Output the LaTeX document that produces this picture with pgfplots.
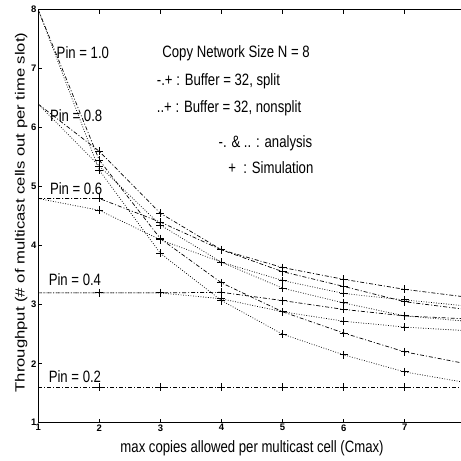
\documentclass[border=0pt]{standalone}
\usepackage{fontspec}
\setmainfont{Liberation Sans}
\usepackage{graphicx}
\usepackage{pgfplots}
\usepackage{pgfplotstable}
\pgfplotsset{compat=1.18}
\newcommand{\sq}[1]{\scalebox{0.8}[1]{\fontsize{16.5}{16.5}\selectfont #1}}
\pgfplotstableread{
x  A     B     C     D     E     F     G     H     I
1  8.00  8.00  6.40  6.40  4.80  4.80  3.20  3.20  1.60
2  5.45  5.28  5.60  5.35  4.80  4.60  3.20  3.20  1.60
3  4.12  3.87  4.55  4.35  4.40  4.10  3.20  3.20  1.60
4  3.37  3.07  3.93  3.72  3.93  3.72  3.21  3.10  1.60
5  2.88  2.50  3.63  3.41  3.56  3.28  3.07  2.88  1.60
6  2.52  2.15  3.43  3.19  3.31  3.03  2.92  2.72  1.60
7  2.20  1.86  3.26  3.08  3.05  2.81  2.81  2.62  1.60
8  2.00  1.68  3.13  2.98  2.92  2.72  2.76  2.56  1.60
}\data
\begin{document}
\begin{tikzpicture}
\begin{axis}[
  scale only axis, width=427.7bp, height=413bp,
  xmin=1, xmax=8, ymin=1, ymax=8,
  xtick={1,...,7}, ytick={1,...,8},
  tick align=inside, major tick length=4bp,
  axis line style={line width=1bp},
  every tick/.style={black, line width=0.7bp},
  ticklabel style={font=\fontsize{9.5}{9.5}\selectfont\bfseries, inner sep=1.5bp},
  /pgf/number format/assume math mode=true,
  xlabel={\scalebox{0.8}[1]{\fontsize{16.5}{16.5}\selectfont max copies allowed per multicast cell (Cmax)}},
  ylabel={\scalebox{1}[0.8]{\fontsize{16.7}{16.7}\selectfont Throughput (\# of multicast cells out per time slot)}},
  xlabel style={at={(axis description cs:0.5,-0.0617)}, anchor=center, inner sep=0},
  ylabel style={at={(axis description cs:-0.04,0.509)}, anchor=center, inner sep=0},
  dd/.style={black, line width=0.7bp, dash pattern=on 4bp off 2bp on 1bp off 2bp, mark=none},
  dt/.style={black, line width=0.7bp, dash pattern=on 0.8bp off 1.7bp, mark=none},
  mk/.style={black, only marks, mark=+, mark size=4bp, mark options={solid, line width=1bp}, restrict x to domain=2:7},
]
\addplot[dd] table[x=x,y=A]{\data};
\addplot[dt] table[x=x,y=B]{\data};
\addplot[dd] table[x=x,y=C]{\data};
\addplot[dt] table[x=x,y=D]{\data};
\addplot[dd] table[x=x,y=E]{\data};
\addplot[dt] table[x=x,y=F]{\data};
\addplot[dd] table[x=x,y=G]{\data};
\addplot[dt] table[x=x,y=H]{\data};
\addplot[dd] table[x=x,y=I]{\data};
\addplot[mk] table[x=x,y=A]{\data};
\addplot[mk] table[x=x,y=B]{\data};
\addplot[mk] table[x=x,y=C]{\data};
\addplot[mk] table[x=x,y=D]{\data};
\addplot[mk] table[x=x,y=E]{\data};
\addplot[mk] table[x=x,y=F]{\data};
\addplot[mk] table[x=x,y=G]{\data};
\addplot[mk] table[x=x,y=H]{\data};
\addplot[mk] table[x=x,y=I]{\data};
\node[anchor=west, inner sep=0] at (axis cs:1.30,7.27) {\sq{Pin = 1.0}};
\node[anchor=west, inner sep=0] at (axis cs:1.19,6.21) {\sq{Pin = 0.8}};
\node[anchor=west, inner sep=0] at (axis cs:1.19,4.97) {\sq{Pin = 0.6}};
\node[anchor=west, inner sep=0] at (axis cs:1.17,3.43) {\sq{Pin = 0.4}};
\node[anchor=west, inner sep=0] at (axis cs:1.17,1.78) {\sq{Pin = 0.2}};
\node[anchor=west, inner sep=0] at (axis cs:3.03,7.27) {\sq{Copy Network Size N = 8}};
\node[anchor=west, inner sep=0] at (axis cs:2.94,6.78) {\sq{-.+ : Buffer = 32, split}};
\node[anchor=west, inner sep=0] at (axis cs:2.94,6.33) {\sq{..+ : Buffer = 32, nonsplit}};
\node[anchor=west, inner sep=0] at (axis cs:3.95,5.74) {\sq{-. \& .. : analysis}};
\node[anchor=west, inner sep=0] at (axis cs:4.11,5.32) {\sq{+\ \ : Simulation}};
\coordinate (bl) at (rel axis cs:0,0);
\end{axis}
\pgfresetboundingbox
\path[use as bounding box] ([shift={(-38.2bp,-38.3bp)}]bl) rectangle ([shift={(422.8bp,422.7bp)}]bl);
\end{tikzpicture}
\end{document}
